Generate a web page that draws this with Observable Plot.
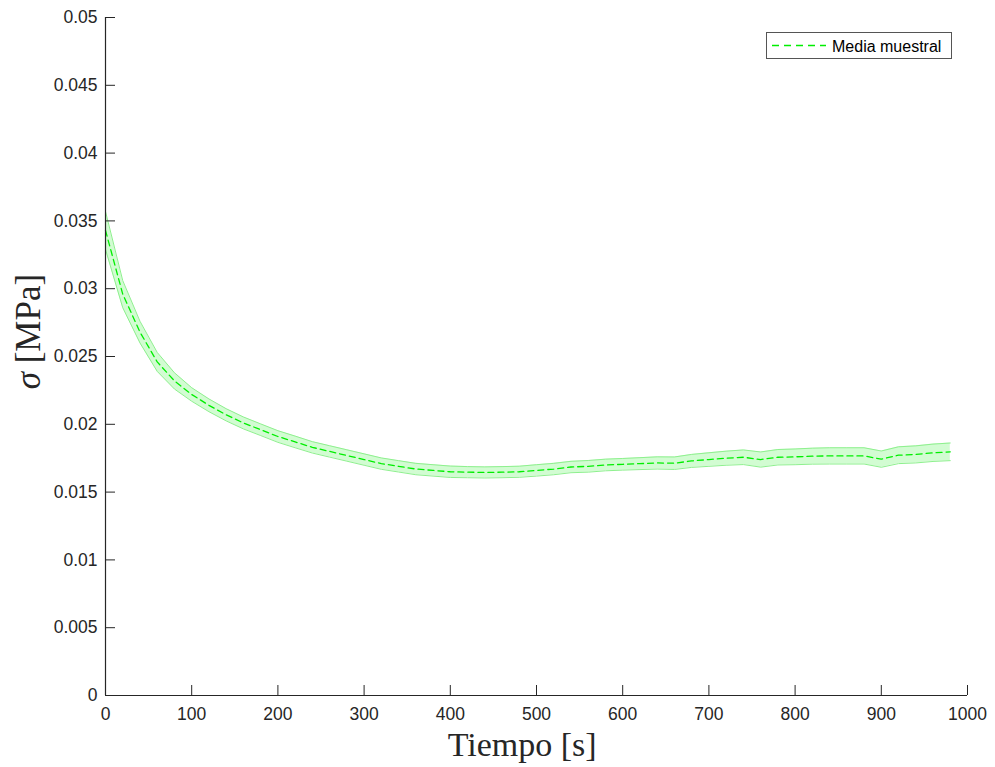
<!DOCTYPE html>
<html>
<head>
<meta charset="utf-8">
<script src="https://cdn.jsdelivr.net/npm/d3@7"></script>
<script src="https://cdn.jsdelivr.net/npm/@observablehq/plot@0.6"></script>
<style>
  html, body { margin: 0; padding: 0; background: #fff; }
  #chart { width: 995px; height: 767px; }
</style>
</head>
<body>
<div id="chart"></div>
<script>
// Time stamps [s]
const tiempo = [0, 20, 40, 60, 80, 100, 120, 140, 160, 180,
  200, 220, 240, 260, 280, 300, 320, 340, 360, 380,
  400, 420, 440, 460, 480, 500, 520, 540, 560, 580,
  600, 620, 640, 660, 680, 700, 720, 740, 760, 780,
  800, 820, 840, 860, 880, 900, 920, 940, 960, 980];
// Sample mean of sigma [MPa]
const media = [0.0343, 0.0296, 0.0268, 0.0246, 0.0232, 0.0222, 0.0214, 0.0207, 0.0201, 0.0196,
  0.0191, 0.0187, 0.0183, 0.0180, 0.0177, 0.0174, 0.0171, 0.0169, 0.0167, 0.0166,
  0.0165, 0.01647, 0.01645, 0.01647, 0.0165, 0.0166, 0.0167, 0.01685, 0.0169, 0.0170,
  0.01705, 0.0171, 0.01715, 0.01713, 0.0173, 0.0174, 0.0175, 0.01757, 0.0174, 0.01757,
  0.0176, 0.01765, 0.01767, 0.01767, 0.01767, 0.01743, 0.01772, 0.01778, 0.0179, 0.01797];
// Half-width of the shaded band [MPa]
const banda = [0.0014, 0.0010, 0.0008, 0.0007, 0.0006, 0.0005, 0.00047, 0.00045, 0.00044, 0.00043,
  0.00043, 0.00043, 0.00042, 0.00042, 0.00042, 0.00042, 0.00042, 0.00042, 0.00042, 0.00042,
  0.00042, 0.00041, 0.00041, 0.00041, 0.00041, 0.00042, 0.00042, 0.00042, 0.00043, 0.00043,
  0.00043, 0.00044, 0.00045, 0.00046, 0.00048, 0.0005, 0.00052, 0.00054, 0.00056, 0.00057,
  0.00058, 0.00059, 0.0006, 0.0006, 0.0006, 0.0006, 0.00062, 0.00063, 0.00064, 0.00065];

const xTicks = [0, 100, 200, 300, 400, 500, 600, 700, 800, 900, 1000];
const xTickLabels = ["0", "100", "200", "300", "400", "500", "600", "700", "800", "900", "1000"];
const yTicks = [0, 0.005, 0.01, 0.015, 0.02, 0.025, 0.03, 0.035, 0.04, 0.045, 0.05];
const yTickLabels = ["0", "0.005", "0.01", "0.015", "0.02", "0.025", "0.03", "0.035", "0.04", "0.045", "0.05"];

const data = tiempo.map((t, i) => ({t, m: media[i], lo: media[i] - banda[i], hi: media[i] + banda[i]}));

const axisColor = "#262626";
const green = "#00ee00";

const plot = Plot.plot({
  width: 995,
  height: 767,
  marginLeft: 105,
  marginRight: 28,
  marginTop: 17,
  marginBottom: 72,
  style: {fontFamily: "Liberation Sans, Arial, sans-serif", fontSize: "17.5px", color: axisColor, background: "#fff"},
  x: {domain: [0, 1000], ticks: xTicks, label: null},
  y: {domain: [0, 0.05], ticks: yTicks, label: null},
  marks: [
    Plot.areaY(data, {x: "t", y1: "lo", y2: "hi", fill: "#d2fcd2", fillOpacity: 1}),
    Plot.lineY(data, {x: "t", y: "hi", stroke: "#8ef08e", strokeWidth: 1}),
    Plot.lineY(data, {x: "t", y: "lo", stroke: "#8ef08e", strokeWidth: 1}),
    Plot.lineY(data, {x: "t", y: "m", stroke: green, strokeWidth: 1.3, strokeDasharray: "6,4"}),
    Plot.ruleX([0], {stroke: axisColor, strokeWidth: 1.2}),
    Plot.ruleY([0], {stroke: axisColor, strokeWidth: 1.2}),
    Plot.axisX({ticks: xTicks, tickFormat: (d) => xTickLabels[xTicks.indexOf(d)], tickSize: -10, tickPadding: 22, stroke: axisColor, fill: axisColor, label: null, fontSize: 17.5}),
    Plot.axisY({ticks: yTicks, tickFormat: (d) => yTickLabels[yTicks.indexOf(d)], tickSize: -10, tickPadding: 18, stroke: axisColor, fill: axisColor, label: null, fontSize: 17.5})
  ]
});

document.getElementById("chart").appendChild(plot);

const svg = d3.select(plot);
const xs = plot.scale("x"), ys = plot.scale("y");

// x label
svg.append("text")
  .attr("x", xs.apply(484))
  .attr("y", 756)
  .attr("text-anchor", "middle")
  .attr("font-family", "Liberation Serif, Times New Roman, serif")
  .attr("font-size", 34)
  .attr("fill", axisColor)
  .text("Tiempo [s]");

// y label
const yl = svg.append("text")
  .attr("transform", `translate(40, ${ys.apply(0.0268)}) rotate(-90)`)
  .attr("text-anchor", "middle")
  .attr("font-family", "Liberation Serif, Times New Roman, serif")
  .attr("font-size", 35)
  .attr("fill", axisColor);
yl.append("tspan").attr("font-style", "italic").text("σ");
yl.append("tspan").text(" [MPa]");

// legend
const lg = svg.append("g");
lg.append("rect").attr("x", 766.5).attr("y", 32.5).attr("width", 185).attr("height", 26)
  .attr("fill", "#fff").attr("stroke", "#555").attr("stroke-width", 1);
lg.append("line").attr("x1", 772).attr("x2", 826).attr("y1", 45.5).attr("y2", 45.5)
  .attr("stroke", green).attr("stroke-width", 1.3).attr("stroke-dasharray", "7,5");
lg.append("text").attr("x", 832).attr("y", 51.5)
  .attr("text-anchor", "start")
  .attr("font-family", "Liberation Sans, Arial, sans-serif").attr("font-size", 16)
  .attr("fill", "#000").text("Media muestral");
</script>
</body>
</html>
